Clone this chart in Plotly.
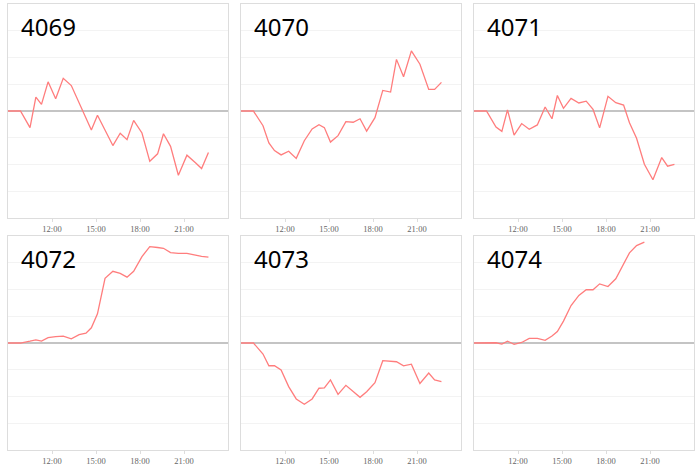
import plotly.graph_objects as go

DAY = "2024-01-01 "
times = ["09:00", "09:51", "10:30", "10:54", "11:17", "11:44", "12:15", "12:46",
         "13:19", "13:51", "14:19", "14:41", "15:06", "15:37", "16:09", "16:39",
         "17:07", "17:34", "18:08", "18:40", "19:12", "19:36", "20:05", "20:37",
         "21:12", "21:48", "22:12", "22:40"]

titles = ["4069", "4070", "4071", "4072", "4073", "4074"]

v4069 = [0, 0, -0.62, 0.52, 0.25, 1.09, 0.46, 1.22, 0.95, 0.32, -0.25, -0.71, -0.16, -0.69,
         -1.29, -0.83, -1.07, -0.35, -0.82, -1.88, -1.6, -0.85, -1.32, -2.4, -1.65, -1.94,
         -2.15, -1.55]
v4070 = [0, 0, -0.55, -1.19, -1.48, -1.64, -1.5, -1.77, -1.11, -0.67, -0.51, -0.62, -1.16,
         -0.92, -0.4, -0.42, -0.29, -0.75, -0.25, 0.77, 0.71, 1.93, 1.28, 2.25, 1.75, 0.81,
         0.81, 1.07]
v4071 = [0, 0, -0.6, -0.76, 0.04, -0.9, -0.47, -0.68, -0.52, 0.15, -0.29, 0.58, 0.1, 0.47,
         0.3, 0.37, 0.06, -0.63, 0.55, 0.31, 0.22, -0.44, -1.02, -1.99, -2.57, -1.74, -2.06,
         -1.99]
v4072 = [0, 0, 0.07, 0.12, 0.07, 0.2, 0.24, 0.26, 0.16, 0.31, 0.37, 0.57, 1.09, 2.42, 2.68,
         2.6, 2.46, 2.68, 3.23, 3.6, 3.57, 3.54, 3.38, 3.35, 3.35, 3.28, 3.24, 3.21]
v4073 = [0, 0, -0.41, -0.85, -0.85, -1.01, -1.63, -2.09, -2.29, -2.09, -1.69, -1.68, -1.38,
         -1.92, -1.58, -1.82, -2.03, -1.82, -1.48, -0.66, -0.68, -0.7, -0.85, -0.79, -1.51,
         -1.12, -1.38, -1.44]
v4074 = [0, 0, 0.01, -0.04, 0.07, -0.05, 0.02, 0.17, 0.17, 0.1, 0.26, 0.43, 0.82, 1.4, 1.78,
         1.99, 1.99, 2.21, 2.11, 2.4, 2.96, 3.37, 3.64, 3.77, None, None, None, None]

series = [v4069, v4070, v4071, v4072, v4073, v4074]

tick_labels = ["12:00", "15:00", "18:00", "21:00"]
x_range = ["09:00", "24:00"]

W, H = 700, 466
col_px = [(8, 228), (241, 461), (474, 694)]
row_px = [(4, 219), (237, 452)]

fig = go.Figure()
xs = [DAY + t for t in times]
for i, vals in enumerate(series):
    r, c = divmod(i, 3)
    n = i + 1
    xa = "x" if n == 1 else f"x{n}"
    ya = "y" if n == 1 else f"y{n}"
    fig.add_trace(go.Scatter(x=xs, y=vals, mode="lines", xaxis=xa, yaxis=ya,
                             line=dict(color="rgb(255,125,125)", width=1.3),
                             hoverinfo="skip", showlegend=False))
    x0, x1 = col_px[c]
    y0, y1 = row_px[r]
    xdom = [x0 / W, x1 / W]
    ydom = [(H - y1) / H, (H - y0) / H]
    key = "" if n == 1 else str(n)
    fig.layout["xaxis" + key] = dict(
        domain=xdom, anchor=ya, type="date",
        range=[DAY + x_range[0], "2024-01-02 00:00"],
        tickvals=[DAY + t for t in tick_labels], ticktext=tick_labels,
        ticks="outside", ticklen=3, tickcolor="#dddddd",
        showgrid=False, zeroline=False,
        showline=True, mirror=True, linecolor="#dddddd", linewidth=1,
        tickfont=dict(family="Liberation Serif", size=8.5, color="#666666"),
    )
    fig.layout["yaxis" + key] = dict(
        domain=ydom, anchor=xa, range=[-4, 4], dtick=1,
        showticklabels=False, ticks="",
        showgrid=True, gridcolor="#f3f3f3", gridwidth=1,
        zeroline=True, zerolinecolor="#c4c4c4", zerolinewidth=1.5,
        showline=True, mirror=True, linecolor="#dddddd", linewidth=1,
    )
    fig.add_annotation(text=titles[i], xref="paper", yref="paper",
                       x=(x0 + 11) / W, y=(H - (y0 + 4)) / H,
                       xanchor="left", yanchor="top", showarrow=False,
                       font=dict(family="Noto Sans", size=24, color="black"))

fig.update_layout(width=W, height=H, margin=dict(l=0, r=0, t=0, b=0),
                  paper_bgcolor="white", plot_bgcolor="white")
fig.write_html("out.html", config={"displayModeBar": False, "staticPlot": True},
               post_script="document.body.style.margin='0';document.body.style.overflow='hidden';")
